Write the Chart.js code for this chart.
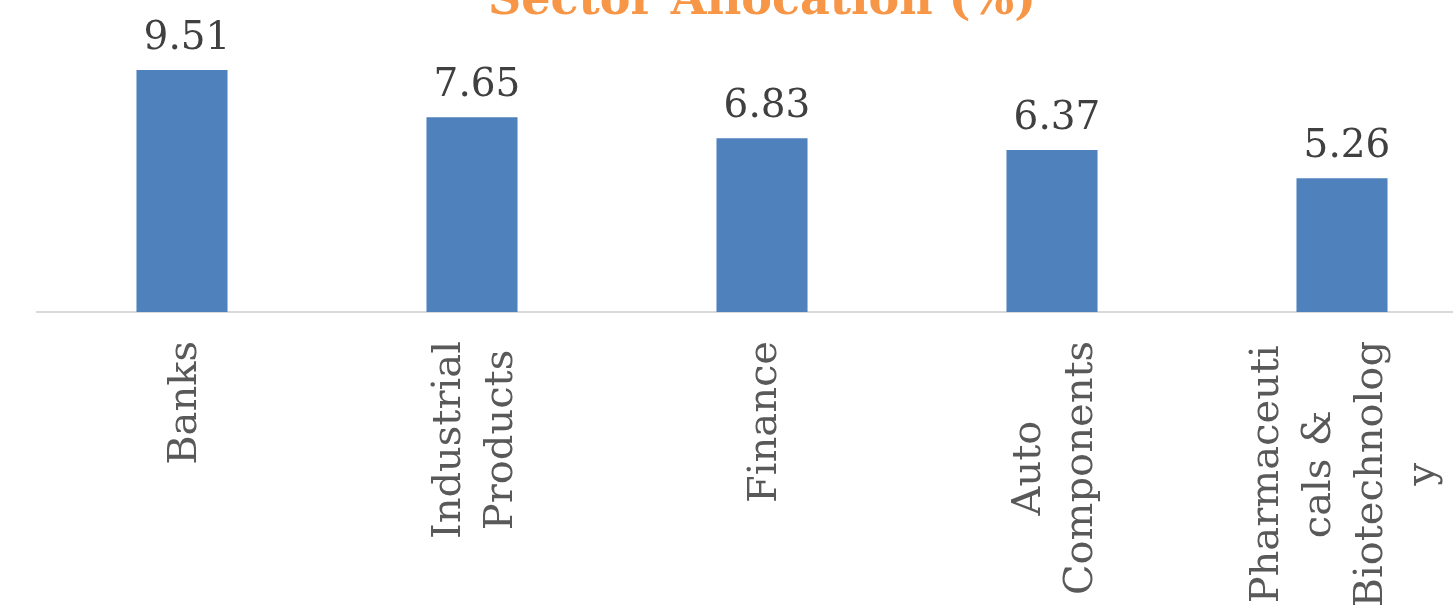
<!DOCTYPE html>
<html>
<head>
<meta charset="utf-8">
<script src="https://cdn.jsdelivr.net/npm/chart.js@4"></script>
<style>
  html, body { margin: 0; padding: 0; background: #ffffff; overflow: hidden; width: 1453px; height: 605px; }
  #wrap { position: absolute; left: 0; top: -40px; width: 1490px; height: 645px; }
</style>
</head>
<body>
<div id="wrap"><canvas id="c"></canvas></div>
<script>
const titleText = 'Sector Allocation (%)';
const categories = [
  ['Banks'],
  ['Industrial', 'Products'],
  ['Finance'],
  ['Auto', 'Components'],
  ['Pharmaceuti', 'cals &', 'Biotechnolog', 'y']
];
const allocation = [9.51, 7.65, 6.83, 6.37, 5.26];
const yMin = 0;
const yMax = 10;

const SERIF = '"DejaVu Serif", "Liberation Serif", serif';

const valueLabels = {
  id: 'valueLabels',
  afterDatasetsDraw(chart) {
    const ctx = chart.ctx;
    const meta = chart.getDatasetMeta(0);
    ctx.save();
    ctx.font = '39px ' + SERIF;
    ctx.fillStyle = '#404040';
    ctx.textAlign = 'center';
    ctx.textBaseline = 'alphabetic';
    meta.data.forEach((bar, i) => {
      ctx.fillText(allocation[i].toFixed(2), bar.x + 5, bar.y - 21);
    });
    ctx.restore();
  }
};

const categoryLabels = {
  id: 'categoryLabels',
  afterDraw(chart) {
    const ctx = chart.ctx;
    const xs = chart.scales.x;
    const top = chart.chartArea.bottom + 29;
    const lh = 52;
    ctx.save();
    ctx.font = '40px ' + SERIF;
    ctx.fillStyle = '#595959';
    ctx.textAlign = 'center';
    ctx.textBaseline = 'middle';
    categories.forEach((lines, i) => {
      const cx = xs.getPixelForValue(i) + 4;
      let maxW = 0;
      lines.forEach(l => { maxW = Math.max(maxW, ctx.measureText(l).width); });
      ctx.save();
      ctx.translate(cx, top);
      ctx.rotate(-Math.PI / 2);
      lines.forEach((l, j) => {
        const off = (j - (lines.length - 1) / 2) * lh;
        ctx.fillText(l, -maxW / 2, off);
      });
      ctx.restore();
    });
    ctx.restore();
  }
};

new Chart(document.getElementById('c'), {
  type: 'bar',
  data: {
    labels: categories,
    datasets: [{
      data: allocation,
      backgroundColor: '#4F81BD',
      borderWidth: 0,
      categoryPercentage: 1,
      barPercentage: 0.314
    }]
  },
  options: {
    responsive: true,
    maintainAspectRatio: false,
    animation: false,
    events: [],
    layout: { padding: { left: 37, right: 3, top: 0, bottom: 0 } },
    plugins: {
      legend: { display: false },
      tooltip: { enabled: false },
      title: {
        display: true,
        text: titleText,
        color: '#F79646',
        font: { family: SERIF, size: 46, weight: 'bold', lineHeight: 1.2 },
        padding: { top: 14.2, bottom: 28.1 }
      }
    },
    scales: {
      x: {
        grid: { display: false },
        border: { display: true, color: '#D9D9D9', width: 2 },
        ticks: { display: false },
        afterFit(scale) { scale.height = 293; }
      },
      y: {
        display: false,
        min: yMin,
        max: yMax
      }
    }
  },
  plugins: [valueLabels, categoryLabels]
});
</script>
</body>
</html>
